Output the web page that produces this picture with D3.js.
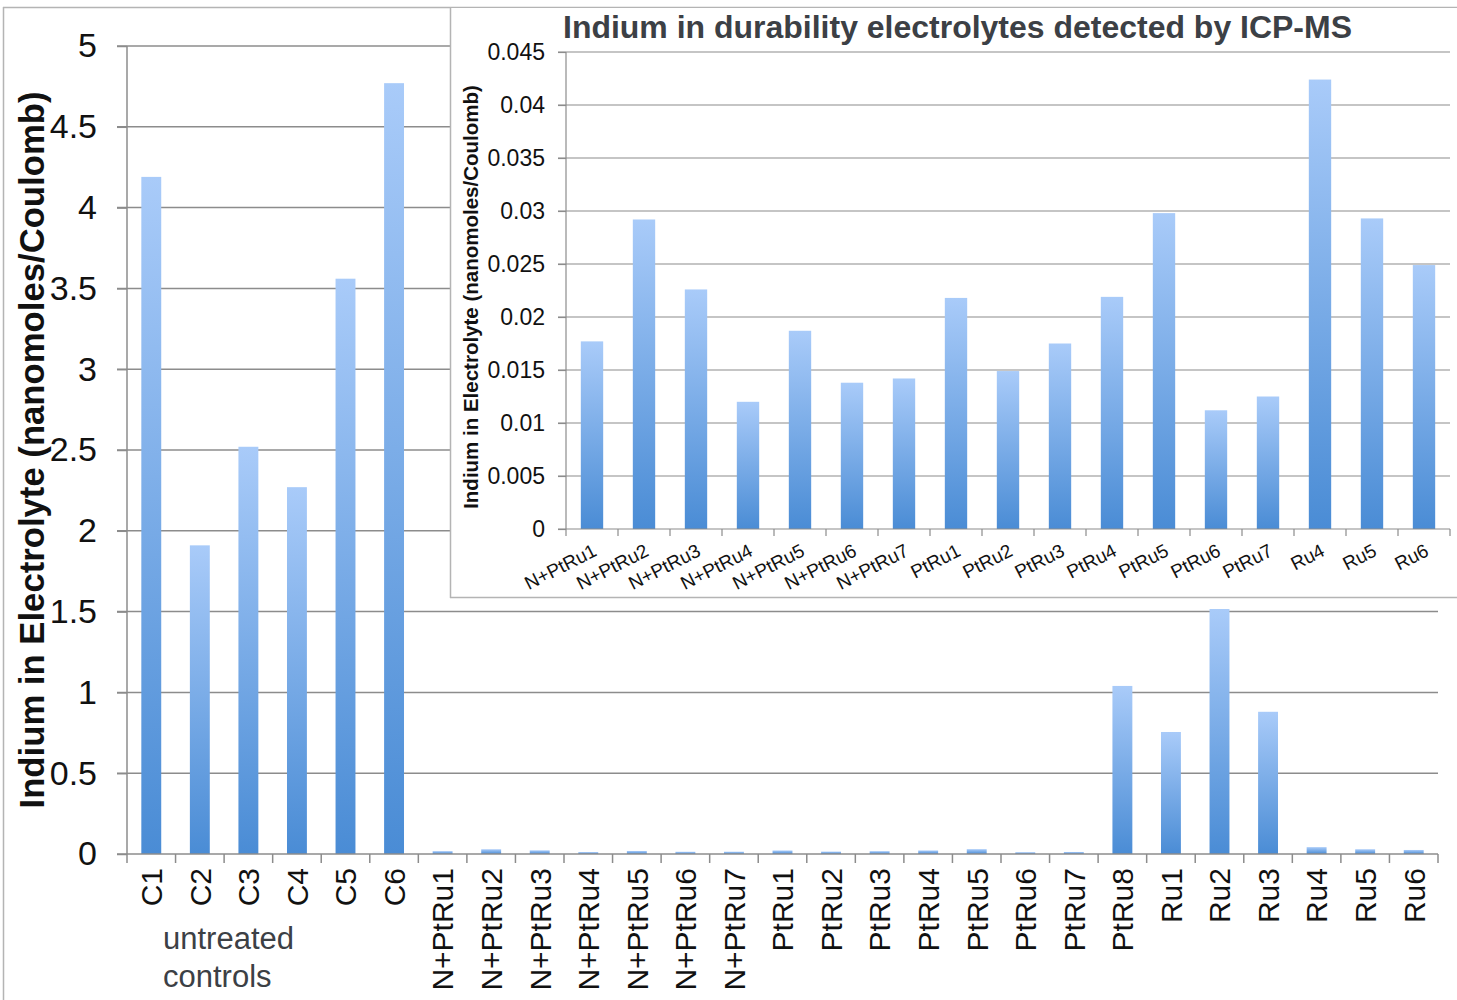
<!DOCTYPE html>
<html><head><meta charset="utf-8">
<script src="https://cdn.jsdelivr.net/npm/d3@7"></script>
<style>body{margin:0;background:#fff;}svg{display:block;font-family:Arial,"Liberation Sans",Helvetica,sans-serif;}</style>
</head><body>
<svg id="c" width="1457" height="1000"></svg>
<script>
// ---- data ----
const mainCategories = ["C1","C2","C3","C4","C5","C6","N+PtRu1","N+PtRu2","N+PtRu3","N+PtRu4","N+PtRu5","N+PtRu6","N+PtRu7","PtRu1","PtRu2","PtRu3","PtRu4","PtRu5","PtRu6","PtRu7","PtRu8","Ru1","Ru2","Ru3","Ru4","Ru5","Ru6"];
const mainValues = [4.19,1.91,2.52,2.27,3.56,4.77,0.0177,0.0292,0.0226,0.012,0.0187,0.0138,0.0142,0.0218,0.0149,0.0175,0.0219,0.0298,0.0112,0.0125,1.04,0.755,1.516,0.88,0.0424,0.0293,0.0249];
const mainTicks = [0,0.5,1,1.5,2,2.5,3,3.5,4,4.5,5];
const mainTickLabels = ["0","0.5","1","1.5","2","2.5","3","3.5","4","4.5","5"];
const insetCategories = ["N+PtRu1","N+PtRu2","N+PtRu3","N+PtRu4","N+PtRu5","N+PtRu6","N+PtRu7","PtRu1","PtRu2","PtRu3","PtRu4","PtRu5","PtRu6","PtRu7","Ru4","Ru5","Ru6"];
const insetValues = [0.0177,0.0292,0.0226,0.012,0.0187,0.0138,0.0142,0.0218,0.0149,0.0175,0.0219,0.0298,0.0112,0.0125,0.0424,0.0293,0.0249];
const insetTicks = [0,0.005,0.01,0.015,0.02,0.025,0.03,0.035,0.04,0.045];
const insetTickLabels = ["0","0.005","0.01","0.015","0.02","0.025","0.03","0.035","0.04","0.045"];
const yTitle = "Indium in Electrolyte (nanomoles/Coulomb)";
const insetTitle = "Indium in durability electrolytes detected by ICP-MS";
const groupNote = ["untreated","controls"];

const svg = d3.select("#c");
const defs = svg.append("defs");
const grad = defs.append("linearGradient").attr("id","barGrad").attr("x1",0).attr("y1",0).attr("x2",0).attr("y2",1);
grad.append("stop").attr("offset","0%").attr("stop-color","#a9cbf9");
grad.append("stop").attr("offset","100%").attr("stop-color","#4a8cd5");

const gridColor = "#8c8c8c", borderColor = "#b4b4b4", textColor = "#111";

// outer frame
svg.append("line").attr("x1",3).attr("x2",1457).attr("y1",7.5).attr("y2",7.5).attr("stroke",borderColor).attr("stroke-width",1.5);
svg.append("line").attr("x1",3.5).attr("x2",3.5).attr("y1",7).attr("y2",1000).attr("stroke",borderColor).attr("stroke-width",1.5);

// ---- main chart ----
const x = d3.scaleBand().domain(mainCategories).range([127,1438]).paddingInner(0.59).paddingOuter(0.295);
const xb = d3.scaleBand().domain(mainCategories).range([127,1438]);
const y = d3.scaleLinear().domain([0,5]).range([854,46]);

const gm = svg.append("g");
gm.append("g").selectAll("line").data(mainTicks.filter(d=>d>0)).join("line")
  .attr("x1",117).attr("x2",1438).attr("y1",d=>y(d)).attr("y2",d=>y(d))
  .attr("stroke",gridColor).attr("stroke-width",1.5);
const yAxis = d3.axisLeft(y).tickValues(mainTicks).tickFormat((d,i)=>mainTickLabels[i]).tickSize(10).tickPadding(20);
const gy = gm.append("g").attr("transform","translate(127,0)").call(yAxis);
gy.select(".domain").attr("stroke",gridColor).attr("stroke-width",1.5).attr("d","M0,46V854");
gy.selectAll(".tick line").attr("stroke",gridColor).attr("stroke-width",1.5);
gy.selectAll(".tick text").attr("font-size",34).attr("fill",textColor).attr("font-family","Arial, 'Liberation Sans', sans-serif");
gm.append("g").selectAll("rect").data(mainCategories).join("rect")
  .attr("x",d=>x(d)).attr("width",x.bandwidth())
  .attr("y",(d,i)=>y(mainValues[i])).attr("height",(d,i)=>y(0)-y(mainValues[i]))
  .attr("fill","url(#barGrad)");
const xAxis = d3.axisBottom(xb).tickSize(0).tickFormat(d=>d);
const gx = gm.append("g").attr("transform","translate(0,854)").call(xAxis);
gx.select(".domain").attr("stroke",gridColor).attr("stroke-width",1.5).attr("d","M117,0H1438");
gx.selectAll(".tick text").attr("font-size",30).attr("fill",textColor)
  .attr("text-anchor","end").attr("transform","rotate(-90)").attr("x",-14).attr("y",0).attr("dy","0.36em");
gm.append("g").selectAll("line").data(d3.range(mainCategories.length+1)).join("line")
  .attr("x1",i=>127+i*xb.step()).attr("x2",i=>127+i*xb.step()).attr("y1",854).attr("y2",863)
  .attr("stroke",gridColor).attr("stroke-width",1.5);
gm.append("g").selectAll("text").data(groupNote).join("text")
  .attr("x",163).attr("y",(d,i)=>949+i*38).attr("font-size",31).attr("fill","#3c4045").text(d=>d);
gm.append("text").attr("transform","translate(44,450) rotate(-90)").attr("text-anchor","middle")
  .attr("font-size",34.7).attr("font-weight","bold").attr("fill",textColor).text(yTitle);

// ---- inset ----
const gi = svg.append("g");
gi.append("rect").attr("x",450).attr("y",8).attr("width",1010).attr("height",589).attr("fill","#fff");
gi.append("line").attr("x1",450.5).attr("x2",450.5).attr("y1",7).attr("y2",598).attr("stroke",borderColor).attr("stroke-width",1.5);
gi.append("line").attr("x1",450).attr("x2",1457).attr("y1",597.5).attr("y2",597.5).attr("stroke",borderColor).attr("stroke-width",1.5);

const xi = d3.scaleBand().domain(insetCategories).range([566,1450]).paddingInner(0.57).paddingOuter(0.285);
const xib = d3.scaleBand().domain(insetCategories).range([566,1450]);
const yi = d3.scaleLinear().domain([0,0.045]).range([529,52]);

gi.append("g").selectAll("line").data(insetTicks.filter(d=>d>0)).join("line")
  .attr("x1",558).attr("x2",1450).attr("y1",d=>yi(d)).attr("y2",d=>yi(d))
  .attr("stroke",gridColor).attr("stroke-width",1.2);
const yiAxis = d3.axisLeft(yi).tickValues(insetTicks).tickFormat((d,i)=>insetTickLabels[i]).tickSize(8).tickPadding(13);
const gyi = gi.append("g").attr("transform","translate(566,0)").call(yiAxis);
gyi.select(".domain").attr("stroke",gridColor).attr("stroke-width",1.2).attr("d","M0,52V529");
gyi.selectAll(".tick line").attr("stroke",gridColor).attr("stroke-width",1.2);
gyi.selectAll(".tick text").attr("font-size",23).attr("fill",textColor);

gi.append("g").selectAll("rect").data(insetCategories).join("rect")
  .attr("x",d=>xi(d)).attr("width",xi.bandwidth())
  .attr("y",(d,i)=>yi(insetValues[i])).attr("height",(d,i)=>yi(0)-yi(insetValues[i]))
  .attr("fill","url(#barGrad)");

const xiAxis = d3.axisBottom(xib).tickSize(0).tickFormat(d=>d);
const gxi = gi.append("g").attr("transform","translate(0,529)").call(xiAxis);
gxi.select(".domain").attr("stroke",gridColor).attr("stroke-width",1.2).attr("d","M558,0H1450");
gxi.selectAll(".tick text").attr("font-size",19).attr("fill",textColor)
  .attr("text-anchor","end").attr("x",0).attr("y",0).attr("dy",0)
  .attr("transform","translate(6,26) rotate(-27)");
gi.append("g").selectAll("line").data(d3.range(insetCategories.length+1)).join("line")
  .attr("x1",i=>566+i*xib.step()).attr("x2",i=>566+i*xib.step()).attr("y1",529).attr("y2",536)
  .attr("stroke",gridColor).attr("stroke-width",1.2);

gi.append("text").attr("x",957.5).attr("y",38).attr("text-anchor","middle")
  .attr("font-size",31).attr("font-weight","bold").attr("fill","#3c4045")
  .attr("textLength",789).attr("lengthAdjust","spacingAndGlyphs").text(insetTitle);
gi.append("text").attr("transform","translate(478,297) rotate(-90)").attr("text-anchor","middle")
  .attr("font-size",20.5).attr("font-weight","bold").attr("fill",textColor).text(yTitle);
</script>
</body></html>
